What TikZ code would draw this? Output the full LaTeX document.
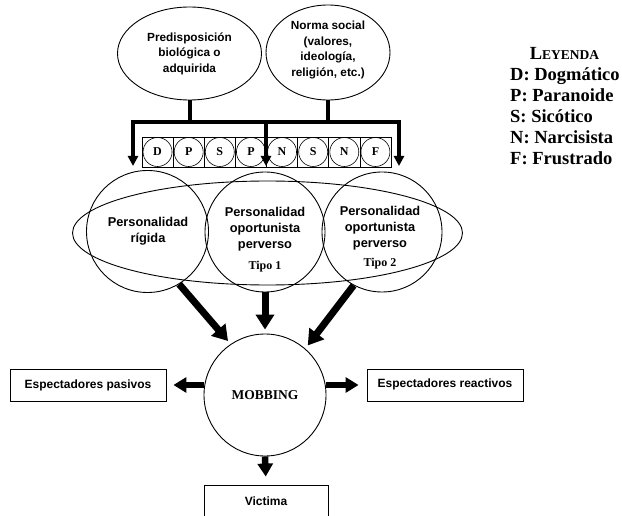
\documentclass[tikz,border=0pt]{standalone}
\usepackage{fontspec}
\setmainfont{Liberation Serif}
\newfontfamily\arialf{Liberation Sans}
\usetikzlibrary{shapes.geometric,arrows.meta}
\begin{document}
\begin{tikzpicture}[x=1pt,y=-1pt,
  toptxt/.style={font=\arialf\bfseries\fontsize{11.8}{15.5}\selectfont, align=center},
  circtxt/.style={font=\arialf\bfseries\fontsize{12.8}{16}\selectfont, align=center},
  tipotxt/.style={font=\bfseries\fontsize{12}{14}\selectfont},
  oval/.style={draw, ellipse, inner sep=0pt, line width=0.9pt},
  ring/.style={draw, circle, inner sep=0pt, line width=0.9pt},
  lbox/.style={draw, rectangle, line width=0.9pt, inner sep=0pt, font=\arialf\bfseries\fontsize{12}{14}\selectfont},
  cellbox/.style={draw, rectangle, line width=0.6pt, inner sep=0pt, minimum width=31.125pt, minimum height=30pt},
  cellring/.style={draw, circle, line width=0.6pt, inner sep=0pt, minimum size=29pt, font=\bfseries\fontsize{12}{12}\selectfont},
  thinarr/.style={line width=4pt, -{Triangle[width=10pt,length=10pt]}},
  bigarr/.style={line width=7pt, -{Triangle[width=18pt,length=15pt]}},
  midarr/.style={line width=6.5pt, -{Triangle[width=15pt,length=13pt]}},
  legtxt/.style={anchor=base west, font=\bfseries\fontsize{18.5}{21}\selectfont, inner sep=0pt},
]
\useasboundingbox (0,0) rectangle (622,516);

% top ellipses
\node[oval, minimum width=144pt, minimum height=93pt] (e1) at (189.5,53.5) {};
\node[toptxt] (t1) at (e1) {Predisposición\\biológica o\\adquirida};
\node[oval, minimum width=124pt, minimum height=95pt] (e2) at (328,52.5) {};
\node[toptxt] (t2) at (328,50) {Norma social\\(valores,\\ideología,\\religión, etc.)};

% cells
\foreach \l [count=\i] in {D,P,S,P,N,S,N,F} {
  \node[cellbox] (cb\i) at ({142+31.125*(\i-0.5)},152) {};
  \node[cellring] (cr\i) at (cb\i) {\l};
}

% distribution bar
\coordinate (bl) at (133,122);
\coordinate (bm) at (266,122);
\coordinate (br) at (399,122);
\coordinate (al) at (133,166);
\coordinate (am) at (266,166);
\coordinate (ar) at (399,166);
\draw[line width=4pt] (e1.south) -- (e1.south |- bl);
\draw[line width=4pt] (e2.south) -- (e2.south |- bl);
\draw[line width=4pt, line cap=rect] (bl) -- (br);
\draw[thinarr] (bl) -- (al);
\draw[thinarr] (bm) -- (am);
\draw[thinarr] (br) -- (ar);

% personality circles
\node[ring, minimum size=122pt] (cl) at (147.5,231.5) {};
\node[ring, minimum size=120pt] (cm) at (265,232) {};
\node[ring, minimum size=120pt] (cr) at (382,232) {};
\node[oval, minimum width=390pt, minimum height=104pt] (big) at (267.5,233) {};
\node[circtxt] (tl) at (148,231) {Personalidad\\rígida};
\node[circtxt] (tm) at (265,229) {Personalidad\\oportunista\\perverso};
\node[tipotxt] (tm2) at (265,267) {Tipo 1};
\node[circtxt] (tr) at (380,228) {Personalidad\\oportunista\\perverso};
\node[tipotxt] (tr2) at (380,264) {Tipo 2};

% mobbing
\node[ring, minimum size=122pt, font=\bfseries\fontsize{13.5}{14}\selectfont] (mob) at (265,395) {MOBBING};
\draw[bigarr, shorten >=4pt] (cl.-59) -- (mob.124);
\draw[bigarr, shorten >=4pt] (cm.south) -- (mob.north);
\draw[bigarr, shorten >=4pt] (cr.-118) -- (mob.49);

% outcome boxes
\node[lbox, minimum width=156pt, minimum height=32pt] (ep) at (88,385) {Espectadores pasivos};
\node[lbox, minimum width=156pt, minimum height=32pt] (er) at (445,385) {\raisebox{3pt}{Espectadores reactivos}};
\node[lbox, minimum width=124pt, minimum height=32pt] (vic) at (266,501) {Victima};
\draw[midarr, shorten >=7pt] (mob.west |- ep.east) -- (ep.east);
\draw[midarr, shorten >=8pt] (mob.east |- er.west) -- (er.west);
\draw[midarr, shorten >=8pt] (mob.south) -- (vic.north);

% legend
\node[font=\bfseries, inner sep=0pt] (leg) at (564.5,53) {{\fontsize{18.5}{20}\selectfont L}{\fontsize{13.5}{20}\selectfont EYENDA}};
\node[legtxt] (l1) at (510,80.5) {D: Dogmático};
\node[legtxt] (l2) at (510,101.5) {P: Paranoide};
\node[legtxt] (l3) at (510,122.5) {S: Sicótico};
\node[legtxt] (l4) at (510,143.5) {N: Narcisista};
\node[legtxt] (l5) at (510,164.5) {F: Frustrado};
\end{tikzpicture}
\end{document}
